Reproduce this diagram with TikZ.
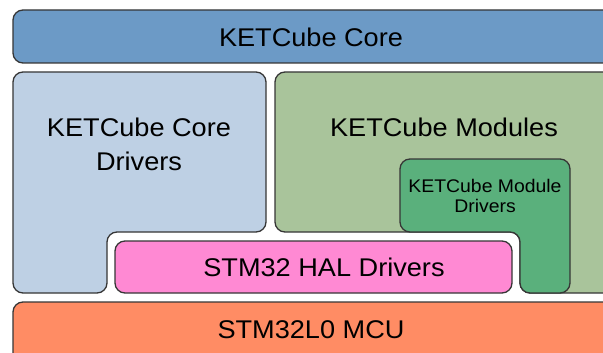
\documentclass[tikz,border=0pt]{standalone}
\usepackage{fontspec}
\setmainfont[FakeStretch=1.06]{Liberation Sans}
\definecolor{coreblue}{HTML}{6C9AC6}
\definecolor{drvblue}{HTML}{BED0E4}
\definecolor{modgreen}{HTML}{A9C49B}
\definecolor{mdrvgreen}{HTML}{5AB07C}
\definecolor{halpink}{HTML}{FF89D3}
\definecolor{mcuorange}{HTML}{FF8C64}
\definecolor{edge}{HTML}{363636}
\begin{document}
\begin{tikzpicture}[x=1pt,y=-1pt,
  layer/.style={draw=edge,line width=1.3pt,rounded corners=10pt},
  bigtxt/.style={inner sep=0pt,anchor=base,font=\fontsize{25.6}{33.3}\selectfont,align=center},
  smalltxt/.style={inner sep=0pt,anchor=base,font=\fontsize{18.3}{21.6}\selectfont,align=center}]
\useasboundingbox (0,0) rectangle (603,353);
\clip (0,0) rectangle (603,353);
% KETCube Core
\path[layer,fill=coreblue] (13,10) rectangle (625,63);
\node[bigtxt] (core) at (311,46.7) {KETCube Core};
% Core Drivers
\path[layer,fill=drvblue] (13,72) -- (266,72) -- (266,232) -- (107,232) -- (107,293) -- (13,293) -- cycle;
\node[bigtxt] (coredrv1) at (139,136.7) {KETCube Core};
\node[bigtxt] (coredrv2) at (139,170) {Drivers};
% Modules
\path[layer,fill=modgreen] (275,72) -- (625,72) -- (625,293) -- (520,293) -- (520,232) -- (275,232) -- cycle;
\node[bigtxt] (modules) at (444,136.7) {KETCube Modules};
% Module Drivers
\path[layer,fill=mdrvgreen] (400,159) -- (570,159) -- (570,293) -- (520,293) -- (520,232) -- (400,232) -- cycle;
\node[smalltxt] (moddrv1) at (485,192.5) {KETCube Module};
\node[smalltxt] (moddrv2) at (485,212) {Drivers};
% HAL
\path[layer,fill=halpink] (115,241) rectangle (512,293);
\node[bigtxt] (hal) at (324,276.7) {STM32 HAL Drivers};
% MCU
\path[layer,fill=mcuorange] (13,302) rectangle (625,375);
\node[bigtxt] (mcu) at (311,338.3) {STM32L0 MCU};
\end{tikzpicture}
\end{document}
